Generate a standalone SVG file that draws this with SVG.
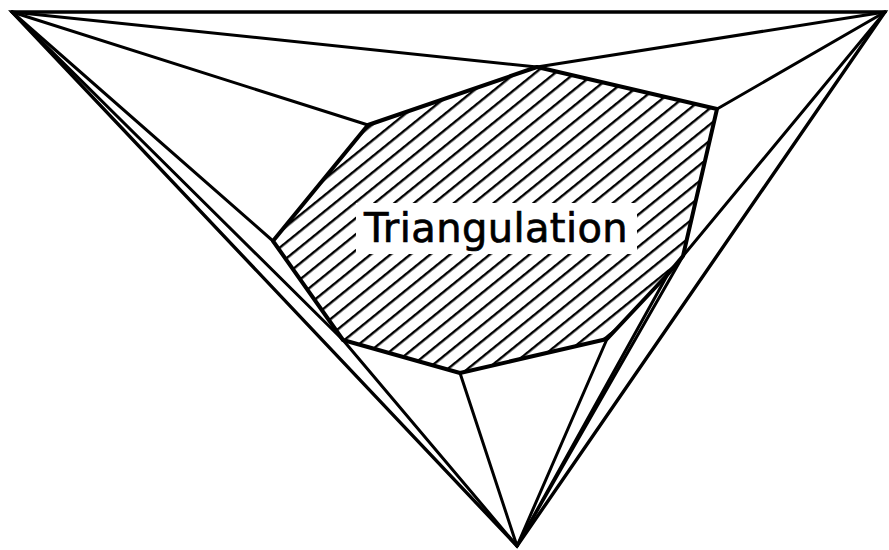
<svg xmlns="http://www.w3.org/2000/svg" width="889" height="550" viewBox="0 0 889 550">
  <defs>
    <pattern id="hatch" patternUnits="userSpaceOnUse" width="30" height="12.5" patternTransform="rotate(-39)">
      <line x1="-5" y1="6" x2="35" y2="6" stroke="#000" stroke-width="2.2"/>
    </pattern>
  </defs>
  <style>
    .edge { stroke: #000; stroke-width: 3; fill: none; stroke-linecap: round; stroke-linejoin: round; }
    .outer { stroke: #000; stroke-width: 3.4; fill: none; stroke-linejoin: miter; }
    .poly { stroke: #000; stroke-width: 4; fill: url(#hatch); stroke-linejoin: round; }
    .label { font-family: "DejaVu Sans", "Liberation Sans", sans-serif; font-size: 40px; fill: #000; stroke: #000; stroke-width: 0.7; letter-spacing: 0.4px; }
  </style>
  <rect width="889" height="550" fill="#fff"/>

  <g id="region">
    <polygon class="poly" points="368,125 537,67 717,109 683,256 668,274 607,339 460,373 343,340 273,241"/>
    <rect x="356" y="203" width="281" height="51" fill="#fff"/>
  </g>

  <g id="connectors">
    <line class="edge" x1="12" y1="12" x2="537" y2="67"/>
    <line class="edge" x1="12" y1="12" x2="368" y2="125"/>
    <line class="edge" x1="12" y1="12" x2="273" y2="241"/>
    <line class="edge" x1="12" y1="12" x2="343" y2="340"/>
    <line class="edge" x1="885" y1="12" x2="537" y2="67"/>
    <line class="edge" x1="885" y1="12" x2="717" y2="109"/>
    <line class="edge" x1="885" y1="12" x2="683" y2="256"/>
    <line class="edge" x1="517" y1="546" x2="343" y2="340"/>
    <line class="edge" x1="517" y1="546" x2="460" y2="373"/>
    <line class="edge" x1="517" y1="546" x2="607" y2="339"/>
    <line class="edge" x1="517" y1="546" x2="668" y2="274"/>
    <line class="edge" x1="517" y1="546" x2="683" y2="256"/>
  </g>

  <g id="outer-triangle">
    <polygon class="outer" points="12,12 885,12 517,546"/>
  </g>

  <g id="label">
    <text class="label" x="496" y="242" text-anchor="middle">Triangulation</text>
  </g>
</svg>
